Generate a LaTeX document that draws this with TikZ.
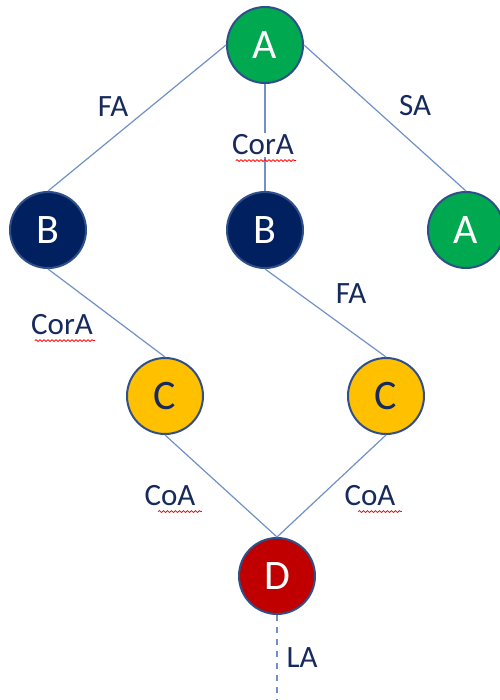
\documentclass[tikz,border=0pt]{standalone}
\usepackage{fontspec}
\setmainfont{Carlito}
\usetikzlibrary{positioning,decorations.pathmorphing}
\definecolor{ppgreen}{HTML}{00A84F}
\definecolor{ppnavy}{HTML}{002060}
\definecolor{ppyellow}{HTML}{FFC000}
\definecolor{ppred}{HTML}{C00000}
\definecolor{ppedge}{HTML}{2F4F8A}
\definecolor{pplink}{HTML}{7090C8}
\definecolor{pptext}{HTML}{172A5C}
\tikzset{
  circ/.style={circle, draw=ppedge, line width=1pt, minimum size=38pt,
    inner sep=0pt, font=\fontsize{21}{21}\selectfont},
  link/.style={draw=pplink, line width=0.6pt},
  lab/.style={text=pptext, inner sep=1pt, font=\fontsize{15.5}{15.5}\selectfont},
  squig/.style={red, line width=0.4pt, decorate,
    decoration={snake, amplitude=0.45pt, segment length=2pt}}
}

\begin{document}
\begin{tikzpicture}[x=0.5pt,y=-0.5pt]
       \useasboundingbox (0,0) rectangle (499,700);
       % states
       \node[circ, fill=ppgreen, text=white] (a1) at (265,45) {A};
       \node[circ, fill=ppnavy, text=white] (b1) at (48,230) {B};
       \node[circ, fill=ppnavy, text=white] (b2) at (265,230) {B};
       \node[circ, fill=ppgreen, text=white] (a2) at (466,230) {A};
       \node[circ, fill=ppyellow, text=pptext] (c1) at (165,396) {C};
       \node[circ, fill=ppyellow, text=pptext] (c2) at (386,396) {C};
       \node[circ, fill=ppred, text=white] (d) at (277,576) {D};
       \coordinate (end) at (277,700);
       % links
       \draw[link] (a1.west) -- (b1.north);
       \draw[link] (a1.south) -- (b2.north);
       \draw[link] (a1.east) -- (a2.north);
       \draw[link] (b1.south) -- (c1.north);
       \draw[link] (b2.south) -- (c2.north);
       \draw[link] (c1.south) -- (d.north);
       \draw[link] (c2.south) -- (d.north);
       \draw[link, dashed] (d.south) -- (end);
       % labels
       \node[lab] (fa1) at (113,107) {FA};
       \node[lab, fill=white] (cora1) at (263,145) {CorA};
       \node[lab] (sa) at (415,106) {SA};
       \node[lab] (cora2) at (62,325) {CorA};
       \node[lab] (fa2) at (351,294) {FA};
       \node[lab] (coa1) at (170,496) {CoA};
       \node[lab] (coa2) at (370,496) {CoA};
       \node[lab] (la) at (302,658) {LA};
       % spelling marks
       \draw[squig] ([xshift=3pt,yshift=-1.5pt]cora1.south west) -- ([yshift=-1.5pt]cora1.south east);
       \draw[squig] ([xshift=3pt,yshift=-1.5pt]cora2.south west) -- ([yshift=-1.5pt]cora2.south east);
       \draw[squig] ([xshift=8pt,yshift=-1.5pt]coa1.south west) -- ([xshift=2pt,yshift=-1.5pt]coa1.south east);
       \draw[squig] ([xshift=8pt,yshift=-1.5pt]coa2.south west) -- ([xshift=2pt,yshift=-1.5pt]coa2.south east);
\end{tikzpicture}
\end{document}
